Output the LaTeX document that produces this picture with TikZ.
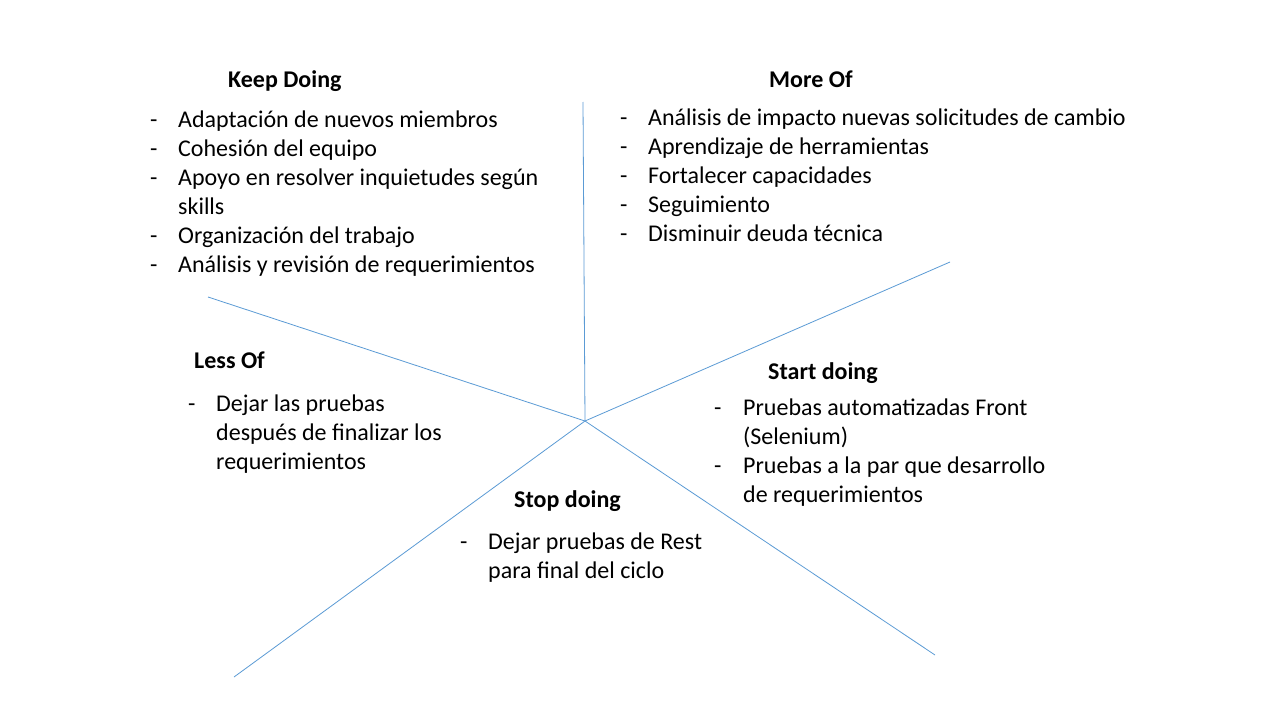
\documentclass[tikz,border=0pt]{standalone}
\usepackage{fontspec}
\setmainfont{Carlito}
\usepackage{xcolor}
\definecolor{rayblue}{RGB}{91,155,213}

\begin{document}
\begin{tikzpicture}[
      x=1pt, y=-1pt,
      ray/.style={draw=rayblue, line width=0.8pt},
      head/.style={anchor=base west, inner sep=0pt, font=\fontsize{24}{29}\selectfont\bfseries},
      items/.style={anchor=base west, inner sep=0pt, font=\fontsize{24}{29}\selectfont}
  ]
    \fill[white] (0,0) rectangle (1280,720);
    \useasboundingbox (0,0) rectangle (1280,720);

    % --- Star rays from the hub ---
    \coordinate (hub)   at (585,421);
    \coordinate (tipN)  at (583,102);
    \coordinate (tipE)  at (950,262);
    \coordinate (tipSE) at (935,655);
    \coordinate (tipSW) at (234,677);
    \coordinate (tipW)  at (208,297);
    \foreach \tip in {tipN,tipE,tipSE,tipSW,tipW} {
      \draw[ray] (hub) -- (\tip);
    }

    % --- Keep Doing ---
    \node[head] (keep) at (228,87) {Keep Doing};
    \node[items] (keeplist) at (150,127) {\begin{tabular}[t]{@{}p{28pt}@{}l@{}}
      - & Adaptación de nuevos miembros\\
      - & Cohesión del equipo\\
      - & Apoyo en resolver inquietudes según\\
        & skills\\
      - & Organización del trabajo\\
      - & Análisis y revisión de requerimientos
    \end{tabular}};

    % --- More Of ---
    \node[head] (more) at (769,87) {More Of};
    \node[items] (morelist) at (620,125) {\begin{tabular}[t]{@{}p{28pt}@{}l@{}}
      - & Análisis de impacto nuevas solicitudes de cambio\\
      - & Aprendizaje de herramientas\\
      - & Fortalecer capacidades\\
      - & Seguimiento\\
      - & Disminuir deuda técnica
    \end{tabular}};

    % --- Less Of ---
    \node[head] (less) at (194,368) {Less Of};
    \node[items] (lesslist) at (188,411) {\begin{tabular}[t]{@{}p{28pt}@{}l@{}}
      - & Dejar las pruebas\\
        & después de finalizar los\\
        & requerimientos
    \end{tabular}};

    % --- Start doing ---
    \node[head] (start) at (768,379) {Start doing};
    \node[items] (startlist) at (714,415) {\begin{tabular}[t]{@{}p{29pt}@{}l@{}}
      - & Pruebas automatizadas Front\\
        & (Selenium)\\
      - & Pruebas a la par que desarrollo\\
        & de requerimientos
    \end{tabular}};

    % --- Stop doing ---
    \node[head] (stop) at (514,507) {Stop doing};
    \node[items] (stoplist) at (460,549) {\begin{tabular}[t]{@{}p{28pt}@{}l@{}}
      - & Dejar pruebas de Rest\\
        & para final del ciclo
    \end{tabular}};

  \end{tikzpicture}
\end{document}
